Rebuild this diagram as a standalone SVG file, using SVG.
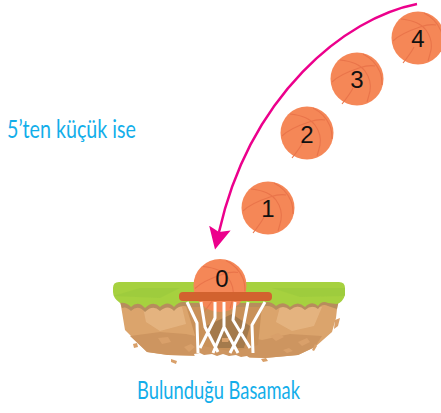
<svg xmlns="http://www.w3.org/2000/svg" width="441" height="413" viewBox="0 0 441 413">
<style>
.num{font:24px "Liberation Sans",Arial,sans-serif;fill:#111;text-anchor:middle}
.label{font:400 25px Lato,"Noto Sans",sans-serif;fill:#12aeea}
.seam{fill:none;stroke:#e9744a;stroke-width:1.100}
.net{fill:none;stroke:#fff;stroke-width:3;stroke-linejoin:round}
.chip{fill:#d9a06a}
.pale{fill:#e9bb8a;opacity:.65}
.mid{fill:#cd9560}
</style>
<defs>
<g id="ball">
<circle r="26.500" fill="#f58757"/>
<path class="seam" d="M-25 3C-18-4-7-8 2-11 8-13 13-14 18-13M-17-19C-7-18 3-15 8-8 13-1 14 6 13 12 12 16 11 20 10 23M-15 25C-11 20-7 15-4 9M6-25C14-21 20-14 23-7 25-2 25 2 25 6"/>
</g>
<marker id="head" markerUnits="userSpaceOnUse" markerWidth="24" markerHeight="24" refX="4" refY="12" orient="auto" viewBox="0 0 24 24"><path d="M22 12L0 1 4 12 0 23Z" fill="#ec008c"/></marker>
</defs>

<g id="ground">
<!-- rock body -->
<path fill="#dba46c" d="M120 300H338L336 318 332 332 315 347 298 355 265 358 240 357 205 356 168 355 147 352 125 330Z"/>
<path class="mid" d="M130 336 160 332 186 334 214 340 232 334 262 340 290 334 322 336 315 347 298 355 265 358 205 356 168 355 147 352Z"/>
<path class="pale" d="M143 307H182L186 324 160 331 146 322ZM280 307H322L314 326 292 331 276 322Z"/>
<path fill="#c99159" d="M186 306H262L258 345 234 352 198 345Z"/>
<path fill="#a47a4c" d="M206 326 232 314 250 326 244 348 214 348Z"/>
<path class="chip" d="M133 344l4-1 1 4-4 1ZM184 347l7-3 4 3-6 5ZM158 338l10-1 3 5-9 2ZM270 336l8-3 6 4-8 4ZM283 350l6-2 4 3-6 2ZM312 350l3-6 2 2-3 5ZM335 320l5-2-2 8-4 3ZM298 342l9-4 3 4-8 4ZM222 338l8 0-2 4-6 0ZM171 359l6 2-1 3-5-2ZM261 359l5-1 2 3-5 1Z"/>
<!-- shadow under the grass fringe -->
<path fill="#b78d5d" d="M118 296H340L337 309 328 306Q322 303 318 309 312 304 305 310 298 303 290 310 283 304 276 310 270 304 262 307H188Q180 304 174 311 168 304 160 311 153 304 145 312 138 304 131 311 126 306 122 308Z"/>
<!-- grass cap with scalloped fringe -->
<path fill="#a6d13f" d="M113 288Q113 282 119 282H339Q345 282 345 288V295Q343 302 337 304L328 303Q322 300 318 306 312 300 305 307 298 300 290 307 283 300 276 306 270 300 262 303H188Q180 300 174 307 168 300 160 307 153 300 145 308 138 300 131 307 126 302 120 303 113 298 113 292Z"/>
<path fill="#93c63c" opacity=".4" d="M272 288H345V296L300 297ZM113 296 140 288H180L160 298Z"/>
</g>

<g id="ball-0"><use href="#ball" x="220" y="285.500"/><text class="num" x="222" y="287">0</text></g>

<g id="hoop">
<path class="net" d="M187 302 197 323 198 353M201 302 205 327 218 352M215 302V318L200 348M224 302V327L238 353M224 327 213 353M235 302 233 320 250 348M248 302 243 328 230 353M265 302 252 325 253 353"/>
<rect x="179" y="292" width="93" height="9" rx="4" fill="#d2622f"/>
<!-- torn white lower edge of the net -->
<path fill="#fff" d="M194 354l6-1 4 2 8-1 5 2 6-2 6 2 7-1 5 2 6-1 4 3-3 3H197Z"/>
</g>

<g id="ball-1"><use href="#ball" x="268" y="208"/><text class="num" x="268" y="217">1</text></g>
<g id="ball-2"><use href="#ball" x="307" y="133"/><text class="num" x="307" y="143">2</text></g>
<g id="ball-3"><use href="#ball" x="357" y="79"/><text class="num" x="357" y="88">3</text></g>
<g id="ball-4"><use href="#ball" x="418" y="38"/><text class="num" x="418" y="47">4</text></g>

<g id="connectors">
<path d="M417 4C345 18 250 95 219 232" fill="none" stroke="#ec008c" stroke-width="2.500" marker-end="url(#head)"/>
</g>

<text class="label" x="7" y="138" textLength="129" lengthAdjust="spacingAndGlyphs">5’ten küçük ise</text>
<text class="label" x="137" y="399" textLength="163" lengthAdjust="spacingAndGlyphs">Bulunduğu Basamak</text>
</svg>
